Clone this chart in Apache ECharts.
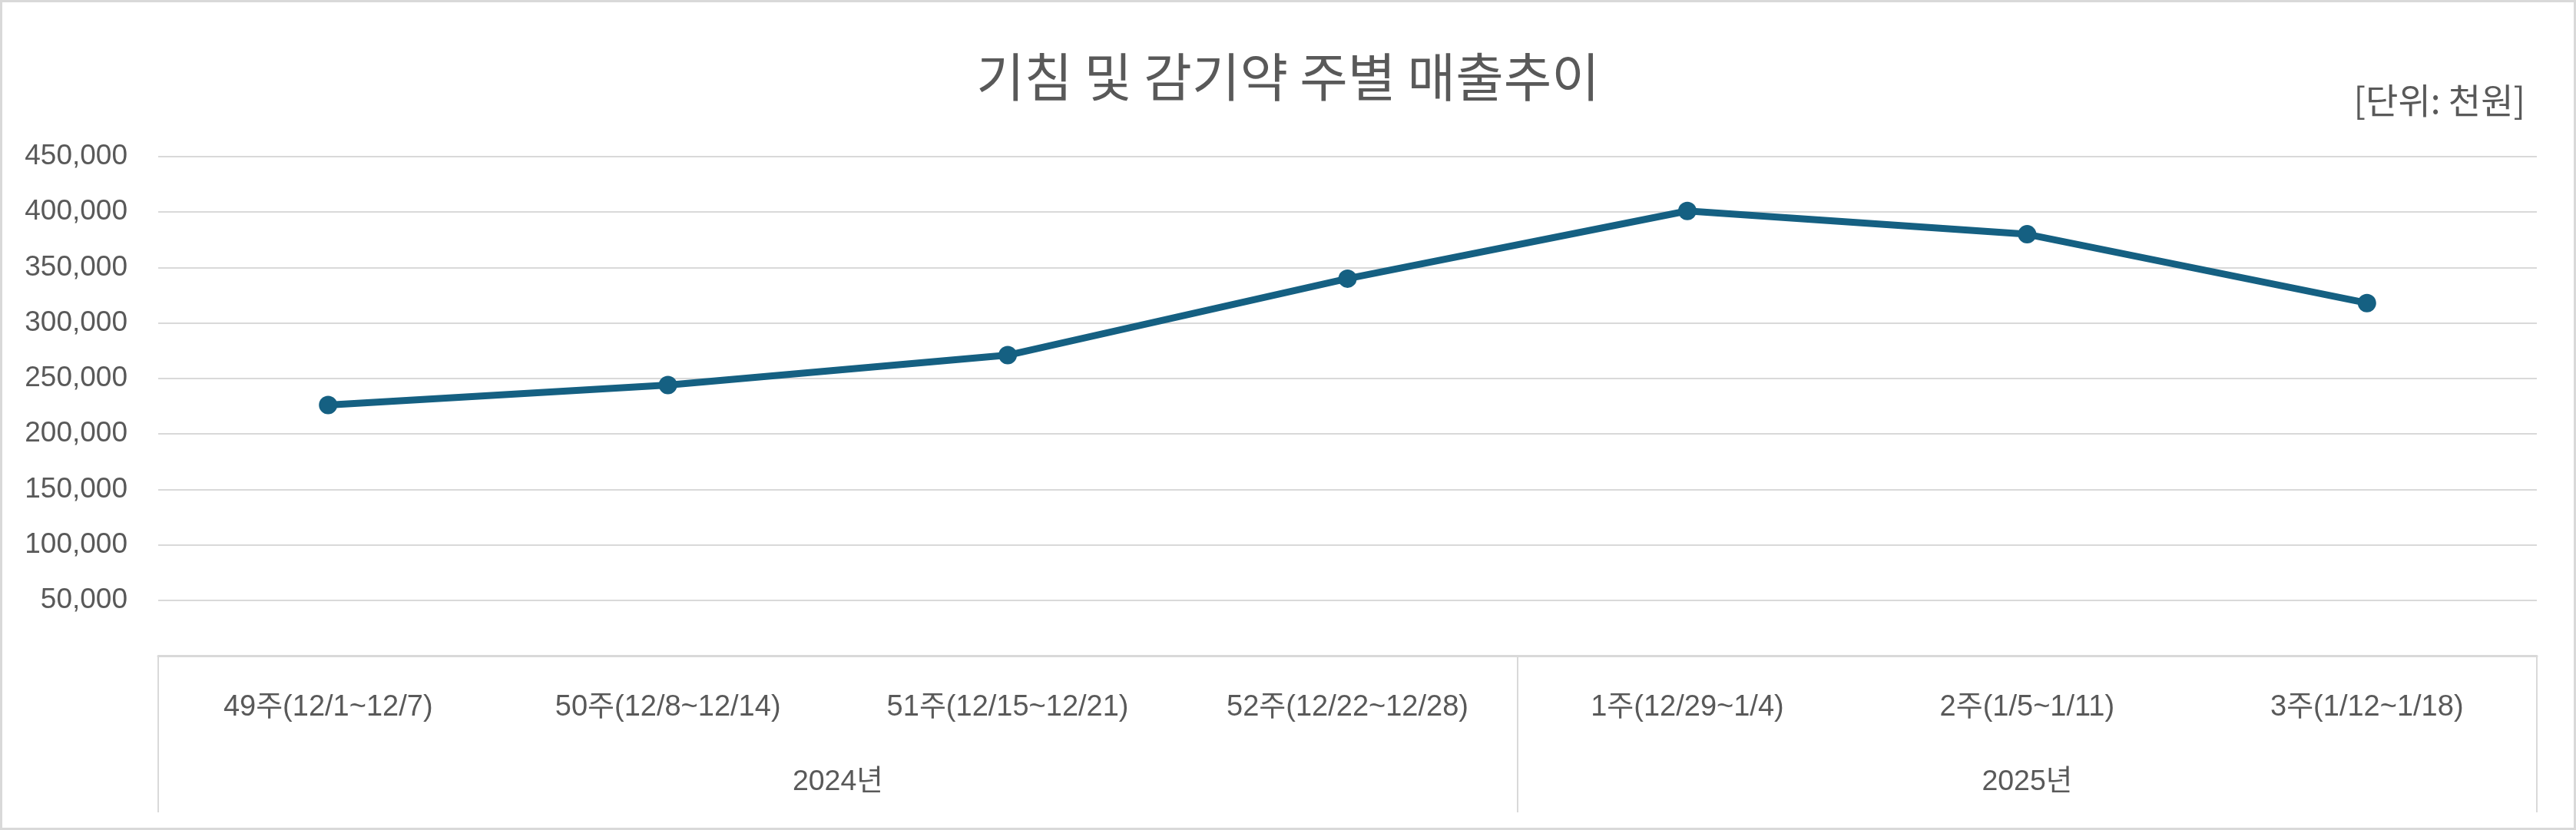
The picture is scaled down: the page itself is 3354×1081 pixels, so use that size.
<!DOCTYPE html>
<html>
<head>
<meta charset="utf-8">
<script src="https://cdn.jsdelivr.net/npm/echarts@6/dist/echarts.min.js"></script>
<style>
html,body{margin:0;padding:0;background:#fff;}
#chart{width:3354px;height:1081px;box-sizing:border-box;border:3px solid #d9d9d9;}
</style>
</head>
<body>
<div id="chart"></div>
<script>
const weeks = ['49주(12/1~12/7)','50주(12/8~12/14)','51주(12/15~12/21)','52주(12/22~12/28)','1주(12/29~1/4)','2주(1/5~1/11)','3주(1/12~1/18)'];
const years = ['2024년','2025년'];
const yearSpans = [4, 3];
const sales = [226000, 244000, 271000, 340000, 401000, 380000, 318000];
const yTicks = { min: 0, max: 450000, interval: 50000 };

const txt = '#595959';
const font = '"Liberation Sans", "Noto Sans CJK KR", sans-serif';

const bounds = [0];
yearSpans.forEach(s => bounds.push(bounds[bounds.length - 1] + s));
const centers = yearSpans.map((s, i) => bounds[i] + s / 2);

const chart = echarts.init(document.getElementById('chart'), null, { renderer: 'canvas' });
chart.setOption({
  backgroundColor: '#fff',
  animation: false,
  title: [
    {
      text: '기침 및 감기약 주별 매출추이',
      left: 'center',
      top: 58,
      textStyle: { fontFamily: '"Noto Sans CJK KR", sans-serif', fontSize: 68, fontWeight: 'normal', color: txt }
    },
    {
      text: '[단위: 천원]',
      right: 58,
      top: 100,
      textStyle: { fontFamily: '"Noto Sans CJK KR", sans-serif', fontSize: 46, fontWeight: 'normal', color: txt }
    }
  ],
  grid: { left: 203, right: 48, top: 201, bottom: 224, containLabel: false },
  xAxis: [
    {
      type: 'category',
      data: weeks,
      boundaryGap: true,
      axisLine: { show: true, lineStyle: { color: '#d9d9d9', width: 3 } },
      axisTick: { show: false },
      axisLabel: { margin: 49, fontFamily: font, fontSize: 38, color: txt, interval: 0 },
      splitLine: { show: false }
    },
    {
      type: 'value',
      position: 'bottom',
      min: 0,
      max: bounds[bounds.length - 1],
      axisLine: { show: false },
      axisTick: { show: true, customValues: bounds, length: 204, lineStyle: { color: '#d9d9d9', width: 2 } },
      axisLabel: {
        show: true,
        customValues: centers,
        margin: 146,
        fontFamily: font, fontSize: 37.5, color: txt,
        formatter: v => { const i = centers.indexOf(v); return i >= 0 ? years[i] : ''; }
      },
      splitLine: { show: false }
    }
  ],
  yAxis: {
    type: 'value',
    min: yTicks.min,
    max: yTicks.max,
    interval: yTicks.interval,
    axisLine: { show: false },
    axisTick: { show: false },
    axisLabel: {
      margin: 40,
      fontFamily: font, fontSize: 37, color: txt,
      formatter: v => v === 0 ? '' : v.toLocaleString('en-US')
    },
    splitLine: { lineStyle: { color: '#d9d9d9', width: 2 } }
  },
  series: [{
    type: 'line',
    xAxisIndex: 0,
    data: sales,
    symbol: 'circle',
    symbolSize: 24,
    lineStyle: { color: '#156082', width: 9 },
    itemStyle: { color: '#156082' }
  }]
});
</script>
</body>
</html>
